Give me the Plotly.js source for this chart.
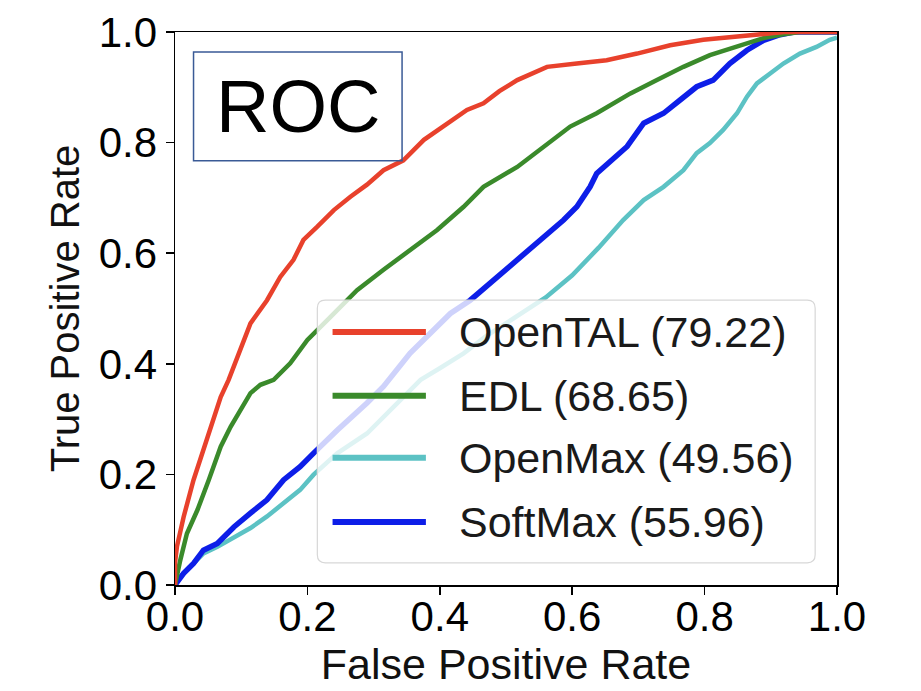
<!DOCTYPE html>
<html>
<head>
<meta charset="utf-8">
<script src="https://cdn.plot.ly/plotly-3.0.1.min.js"></script>
<style>html,body{margin:0;padding:0;background:#fff;}#chart{width:921px;height:691px;}</style>
</head>
<body>
<div id="chart"></div>
<script>
// ---- data ----
const methodNames = ["OpenTAL", "EDL", "OpenMax", "SoftMax"];
const aucValues = ["79.22", "68.65", "49.56", "55.96"];

const opentalFpr = [0, 0.000, 0.003, 0.013, 0.028, 0.043, 0.056, 0.069, 0.081, 0.089, 0.114, 0.139, 0.159, 0.179, 0.194, 0.215, 0.240, 0.265, 0.290, 0.315, 0.345, 0.376, 0.406, 0.441, 0.466, 0.490, 0.517, 0.540, 0.562, 0.607, 0.652, 0.698, 0.748, 0.798, 0.849, 0.894, 0.920, 1.0];
const opentalTpr = [0, 0.040, 0.070, 0.123, 0.190, 0.244, 0.292, 0.340, 0.371, 0.395, 0.473, 0.515, 0.557, 0.588, 0.624, 0.648, 0.678, 0.702, 0.724, 0.750, 0.768, 0.805, 0.829, 0.859, 0.871, 0.893, 0.913, 0.925, 0.937, 0.943, 0.949, 0.961, 0.976, 0.986, 0.991, 0.997, 1.0, 1.0];

const edlFpr = [0, 0.003, 0.008, 0.018, 0.034, 0.051, 0.069, 0.084, 0.099, 0.114, 0.129, 0.149, 0.174, 0.200, 0.235, 0.275, 0.315, 0.355, 0.396, 0.436, 0.466, 0.517, 0.557, 0.597, 0.637, 0.688, 0.728, 0.768, 0.808, 0.849, 0.889, 0.919, 0.944, 1.0];
const edlTpr = [0, 0.020, 0.045, 0.093, 0.136, 0.190, 0.250, 0.286, 0.316, 0.347, 0.362, 0.371, 0.401, 0.443, 0.485, 0.533, 0.570, 0.606, 0.642, 0.684, 0.720, 0.756, 0.793, 0.829, 0.853, 0.889, 0.913, 0.937, 0.958, 0.973, 0.989, 0.996, 1.0, 1.0];

const openmaxFpr = [0, 0.003, 0.023, 0.043, 0.064, 0.089, 0.114, 0.139, 0.164, 0.189, 0.209, 0.245, 0.290, 0.330, 0.371, 0.400, 0.436, 0.470, 0.520, 0.560, 0.600, 0.640, 0.677, 0.708, 0.738, 0.768, 0.788, 0.808, 0.828, 0.849, 0.864, 0.879, 0.899, 0.919, 0.944, 0.969, 0.989, 1.0];
const openmaxTpr = [0, 0.009, 0.033, 0.057, 0.069, 0.087, 0.103, 0.124, 0.148, 0.172, 0.199, 0.238, 0.274, 0.322, 0.371, 0.392, 0.419, 0.450, 0.490, 0.520, 0.560, 0.610, 0.660, 0.696, 0.720, 0.750, 0.781, 0.799, 0.823, 0.853, 0.883, 0.907, 0.925, 0.943, 0.961, 0.973, 0.986, 0.990];

const softmaxFpr = [0, 0.013, 0.028, 0.043, 0.064, 0.089, 0.114, 0.139, 0.164, 0.189, 0.209, 0.245, 0.290, 0.315, 0.355, 0.391, 0.416, 0.446, 0.480, 0.520, 0.550, 0.587, 0.607, 0.627, 0.637, 0.662, 0.683, 0.708, 0.738, 0.763, 0.788, 0.813, 0.838, 0.864, 0.889, 0.914, 0.935, 1.0];
const softmaxTpr = [0, 0.021, 0.039, 0.063, 0.075, 0.105, 0.130, 0.154, 0.190, 0.214, 0.238, 0.280, 0.329, 0.359, 0.419, 0.461, 0.491, 0.515, 0.550, 0.590, 0.620, 0.660, 0.684, 0.720, 0.744, 0.769, 0.793, 0.835, 0.853, 0.877, 0.901, 0.913, 0.943, 0.967, 0.985, 0.995, 1.0, 1.0];

const xTickVals = [0, 0.2, 0.4, 0.6, 0.8, 1.0];
const xTickText = ["0.0", "0.2", "0.4", "0.6", "0.8", "1.0"];
const yTickVals = [0, 0.2, 0.4, 0.6, 0.8, 1.0];
const yTickText = ["0.0", "0.2", "0.4", "0.6", "0.8", "1.0"];

// ---- styling ----
const colors = ["#e8412c", "#3a8a2b", "#5cc2c4", "#0d1ee8"];
const widths = [4.5, 4.5, 4.5, 5.5];
const FONT = "Liberation Sans, Arial, sans-serif";

const series = [[opentalFpr, opentalTpr], [edlFpr, edlTpr], [openmaxFpr, openmaxTpr], [softmaxFpr, softmaxTpr]];
const traces = series.map((s, i) => ({
  x: s[0], y: s[1], type: "scatter", mode: "lines",
  name: methodNames[i] + " (" + aucValues[i] + ")",
  line: {color: colors[i], width: widths[i]},
  showlegend: false, hoverinfo: "skip"
}));
const ordered = [traces[2], traces[3], traces[1], traces[0]];

// manual legend (matplotlib style)
const lgX0 = 0.215, lgX1 = 0.967, lgY0 = 0.040, lgY1 = 0.515;
const rx = 0.012, ry = 0.0145;
const lgPath = `M${lgX0 + rx},${lgY1} L${lgX1 - rx},${lgY1} Q${lgX1},${lgY1} ${lgX1},${lgY1 - ry} L${lgX1},${lgY0 + ry} Q${lgX1},${lgY0} ${lgX1 - rx},${lgY0} L${lgX0 + rx},${lgY0} Q${lgX0},${lgY0} ${lgX0},${lgY0 + ry} L${lgX0},${lgY1 - ry} Q${lgX0},${lgY1} ${lgX0 + rx},${lgY1} Z`;
const rowY = [0.4575, 0.342, 0.230, 0.114];

const shapes = [
  {type: "rect", xref: "paper", yref: "paper", x0: 0.028, x1: 0.343, y0: 0.767, y1: 0.964,
   line: {color: "#3a5a96", width: 1.5}, fillcolor: "rgba(0,0,0,0)", layer: "above"},
  {type: "path", xref: "paper", yref: "paper", path: lgPath,
   line: {color: "rgba(215,215,215,1)", width: 1.2}, fillcolor: "rgba(255,255,255,0.8)", layer: "above"}
];
const annotations = [
  {xref: "paper", yref: "paper", x: 0.186, y: 0.866, text: "ROC", showarrow: false,
   xanchor: "center", yanchor: "middle", font: {family: FONT, size: 74, color: "#000"}}
];
methodNames.forEach((n, i) => {
  shapes.push({type: "line", xref: "paper", yref: "paper", x0: 0.238, x1: 0.379, y0: rowY[i], y1: rowY[i],
    line: {color: colors[i], width: 6}, layer: "above"});
  annotations.push({xref: "paper", yref: "paper", x: 0.426, y: rowY[i], text: n + " (" + aucValues[i] + ")",
    showarrow: false, xanchor: "left", yanchor: "middle", font: {family: FONT, size: 43, color: "#1a1a1a"}});
});

const layout = {
  width: 921, height: 691,
  margin: {l: 174.5, r: 84, t: 32, b: 106, pad: 0},
  paper_bgcolor: "#fff", plot_bgcolor: "#fff",
  showlegend: false,
  font: {family: FONT, color: "#000"},
  xaxis: {
    range: [0, 1], tickvals: xTickVals, ticktext: xTickText,
    ticks: "outside", ticklen: 8, tickwidth: 1.5, tickcolor: "#000",
    ticklabelstandoff: -14,
    showline: true, linecolor: "#000", linewidth: 1.5, mirror: true,
    showgrid: false, zeroline: false,
    tickfont: {family: FONT, size: 42, color: "#000"},
    title: {text: "False Positive Rate", font: {family: FONT, size: 43, color: "#111"}, standoff: 8},
    automargin: false
  },
  yaxis: {
    range: [0, 1], tickvals: yTickVals, ticktext: yTickText,
    ticks: "outside", ticklen: 8, tickwidth: 1.5, tickcolor: "#000",
    ticklabelstandoff: 0,
    showline: true, linecolor: "#000", linewidth: 1.5, mirror: true,
    showgrid: false, zeroline: false,
    tickfont: {family: FONT, size: 42, color: "#000"},
    title: {text: "True Positive Rate", font: {family: FONT, size: 40, color: "#111"}, standoff: 6},
    automargin: false
  },
  shapes: shapes,
  annotations: annotations
};

Plotly.newPlot("chart", ordered, layout, {displayModeBar: false, staticPlot: true});
</script>
</body>
</html>
